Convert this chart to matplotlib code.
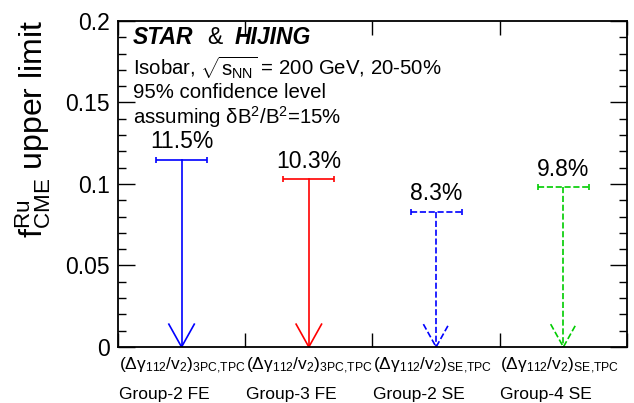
import matplotlib
matplotlib.use("Agg")
import matplotlib.pyplot as plt
from matplotlib.ticker import FormatStrFormatter, MultipleLocator

plt.rcParams["font.family"] = ["Liberation Sans", "DejaVu Sans"]
plt.rcParams["mathtext.fontset"] = "custom"
plt.rcParams["mathtext.rm"] = "Liberation Sans"
plt.rcParams["mathtext.it"] = "Liberation Sans:italic"
plt.rcParams["mathtext.bf"] = "Liberation Sans:bold"

# upper limits on f_CME for each method
methods = [r"$\mathrm{(\Delta\gamma_{112}/v_2)_{3PC{,}TPC}}$",
           r"$\mathrm{(\Delta\gamma_{112}/v_2)_{3PC{,}TPC}}$",
           r"$\mathrm{(\Delta\gamma_{112}/v_2)_{SE{,}TPC}}$",
           r"$\mathrm{(\Delta\gamma_{112}/v_2)_{SE{,}TPC}}$"]
groups = ["Group-2 FE", "Group-3 FE", "Group-2 SE", "Group-4 SE"]
limits = [0.115, 0.103, 0.083, 0.098]
colors = ["#0000ff", "#ff0000", "#0000ff", "#00cc00"]
styles = ["-", "-", "--", "--"]

fig = plt.figure(figsize=(6.34, 4.03), dpi=100)
ax = fig.add_axes([0.186, 0.139, 0.803, 0.809])

half = 0.2     # half width of the limit bar
head_w = 0.1   # arrow head half width
head_h = 0.014 # arrow head height

for i, (v, c, ls) in enumerate(zip(limits, colors, styles)):
    x = i + 0.5
    eb = ax.errorbar([x], [v], xerr=half, fmt="none", ecolor=c, elinewidth=1.2,
                     capsize=2, capthick=1.2)
    eb[2][0].set_linestyle(ls)
    ax.plot([x, x], [v, 0], color=c, lw=1.2, ls=ls)
    ax.plot([x - head_w, x, x + head_w], [head_h, 0, head_h], color=c, lw=1.2, ls=ls)
    ax.text(x, v + 0.004, f"{v * 100:.1f}%", ha="center", va="bottom", fontsize=16.5)

ax.set_xlim(0, 4)
ax.set_ylim(0, 0.2)
ax.xaxis.set_major_locator(MultipleLocator(1))
ax.yaxis.set_major_locator(MultipleLocator(0.05))
ax.yaxis.set_minor_locator(MultipleLocator(0.01))
ax.yaxis.set_major_formatter(FormatStrFormatter("%g"))
ax.tick_params(axis="both", which="both", direction="in", top=True, right=True)
ax.tick_params(axis="y", which="major", length=12, width=1, labelsize=16.5, pad=6)
ax.tick_params(axis="y", which="minor", length=6, width=1)
ax.tick_params(axis="x", which="major", length=10, width=1, labelbottom=False)
for sp in ax.spines.values():
    sp.set_linewidth(1.3)

# two-line category labels under each slot
for i, (m, g) in enumerate(zip(methods, groups)):
    ax.text(i + 0.005, -0.0055, m, ha="left", va="top", fontsize=12.5, clip_on=False)
    ax.text(i + 0.005, -0.0245, g, ha="left", va="top", fontsize=12.5, clip_on=False)

ax.set_ylabel(r"$\mathrm{f^{Ru}_{CME}}$ upper limit", fontsize=23)
ax.yaxis.set_label_coords(-0.128, 0.67)

tx = 0.03
ax.text(tx, 0.949, "STAR", transform=ax.transAxes, fontsize=16.5,
        fontweight="bold", fontstyle="italic", va="center")
ax.text(0.176, 0.949, "&", transform=ax.transAxes, fontsize=16.5, va="center")
ax.text(0.229, 0.949, "HIJING", transform=ax.transAxes, fontsize=16.5,
        fontweight="bold", fontstyle="italic", va="center")
ax.text(tx, 0.858, r"Isobar, $\mathrm{\sqrt{s_{NN}}}$ = 200 GeV, 20-50%",
        transform=ax.transAxes, fontsize=14.7, va="center")
ax.text(tx, 0.782, "95% confidence level", transform=ax.transAxes, fontsize=14.7,
        va="center")
ax.text(tx, 0.705, r"assuming $\mathrm{\delta}$B$^2$/B$^2$=15%", transform=ax.transAxes,
        fontsize=14.7, va="center")

fig.savefig("out.png", dpi=100)
